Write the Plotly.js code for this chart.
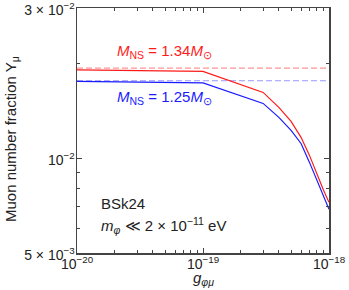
<!DOCTYPE html>
<html>
<head>
<meta charset="utf-8">
<script src="https://cdn.plot.ly/plotly-3.0.1.min.js"></script>
<style>html,body{margin:0;padding:0;background:#fff;}#plot{width:349px;height:290px;}</style>
</head>
<body>
<div id="plot"></div>
<script>
// coupling g_phi_mu
const gValues = [1e-20, 1e-19, 3e-19, 4e-19, 5e-19, 6e-19, 7e-19, 8e-19, 9e-19, 1e-18];
// muon fraction, M_NS = 1.34 Msun
const yRed = [0.01907, 0.01886, 0.01618, 0.01450, 0.01309, 0.01165, 0.01021, 0.00888, 0.00796, 0.00724];
// muon fraction, M_NS = 1.25 Msun
const yBlue = [0.01753, 0.01734, 0.01493, 0.01348, 0.01226, 0.01114, 0.00970, 0.00850, 0.00762, 0.00688];
// reference (no coupling) values, dashed
const refRed = 0.01932;
const refBlue = 0.01762;
const xRange = [1e-20, 1e-18];
const yRange = [5e-3, 3e-2];
const xMajor = [1e-20, 1e-19, 1e-18];
const xMajorText = ['10<sup>−20</sup>', '10<sup>−19</sup>', '10<sup>−18</sup>'];
const xMinor = [2e-20,3e-20,4e-20,5e-20,6e-20,7e-20,8e-20,9e-20,2e-19,3e-19,4e-19,5e-19,6e-19,7e-19,8e-19,9e-19];
const yMajor = [5e-3, 1e-2, 3e-2];
const yMajorText = ['5 × 10<sup>−3</sup>', '10<sup>−2</sup>', '3 × 10<sup>−2</sup>'];
const yMinor = [6e-3, 7e-3, 8e-3, 9e-3, 2e-2];

const font = 'Liberation Sans, Arial, Helvetica, sans-serif';
const traces = [
  {x: xRange, y: [refRed, refRed], mode: 'lines', line: {color: 'rgba(255,80,80,0.6)', width: 1.2, dash: '6px,3px'}, hoverinfo: 'skip'},
  {x: xRange, y: [refBlue, refBlue], mode: 'lines', line: {color: 'rgba(80,80,255,0.6)', width: 1.2, dash: '6px,3px'}, hoverinfo: 'skip'},
  {x: gValues, y: yRed, mode: 'lines', line: {color: '#ff1a1a', width: 1.2}},
  {x: gValues, y: yBlue, mode: 'lines', line: {color: '#1a1aff', width: 1.2}}
];
const eps = 1e-6;
const axisCommon = {
  type: 'log', showgrid: false, zeroline: false, showline: true, linecolor: '#444', linewidth: 1.5,
  mirror: 'ticks', ticks: 'inside', ticklen: 5, tickwidth: 1, tickcolor: '#444',
  tickfont: {family: font, size: 14, color: '#222'}, tickmode: 'array', ticklabeloverflow: 'allow'
};
const layout = {
  width: 349, height: 290,
  margin: {l: 77, r: 20, t: 8, b: 37},
  paper_bgcolor: '#fff', plot_bgcolor: '#fff',
  showlegend: false,
  font: {family: font, color: '#222'},
  xaxis: Object.assign({}, axisCommon, {
    range: [Math.log10(xRange[0]) - eps, Math.log10(xRange[1]) + eps],
    tickvals: xMajor, ticktext: xMajorText, ticklabelstandoff: -2,
    minor: {tickmode: 'array', tickvals: xMinor, ticks: 'inside', ticklen: 3, tickcolor: '#444', tickwidth: 1}
  }),
  yaxis: Object.assign({}, axisCommon, {
    range: [Math.log10(yRange[0]) - eps, Math.log10(yRange[1]) + eps],
    tickvals: yMajor, ticktext: yMajorText, ticklabelstandoff: -2, ticklabelshift: 2,
    minor: {tickmode: 'array', tickvals: yMinor, ticks: 'inside', ticklen: 3, tickcolor: '#444', tickwidth: 1}
  }),
  annotations: [
    {xref: 'paper', yref: 'paper', x: -0.262, y: 0.465, xanchor: 'center', yanchor: 'middle', showarrow: false, textangle: -90,
     text: 'Muon number fraction Y<sub>μ</sub>', font: {family: font, size: 15, color: '#222'}},
    {xref: 'paper', yref: 'paper', x: 0.5, y: -0.149, xanchor: 'center', yanchor: 'bottom', showarrow: false,
     text: '<i>g</i><sub><i>φμ</i></sub>', font: {family: font, size: 15, color: '#222'}},
    {xref: 'paper', yref: 'paper', x: 0.151, y: 0.824, xanchor: 'left', yanchor: 'middle', showarrow: false,
     text: '<i>M</i><sub>NS</sub> = 1.34<i>M</i><sub>⊙</sub>', font: {family: font, size: 15, color: '#ff1a1a'}},
    {xref: 'paper', yref: 'paper', x: 0.151, y: 0.633, xanchor: 'left', yanchor: 'middle', showarrow: false,
     text: '<i>M</i><sub>NS</sub> = 1.25<i>M</i><sub>⊙</sub>', font: {family: font, size: 15, color: '#1a1aff'}},
    {xref: 'paper', yref: 'paper', x: 0.087, y: 0.204, xanchor: 'left', yanchor: 'middle', showarrow: false,
     text: 'BSk24', font: {family: font, size: 15, color: '#222'}},
    {xref: 'paper', yref: 'paper', x: 0.087, y: 0.114, xanchor: 'left', yanchor: 'middle', showarrow: false,
     text: '<i>m</i><sub><i>φ</i></sub> ≪ 2 × 10<sup>−11</sup> eV', font: {family: font, size: 15, color: '#222'}}
  ]
};
Plotly.newPlot('plot', traces, layout, {displayModeBar: false, staticPlot: true});
</script>
</body>
</html>
